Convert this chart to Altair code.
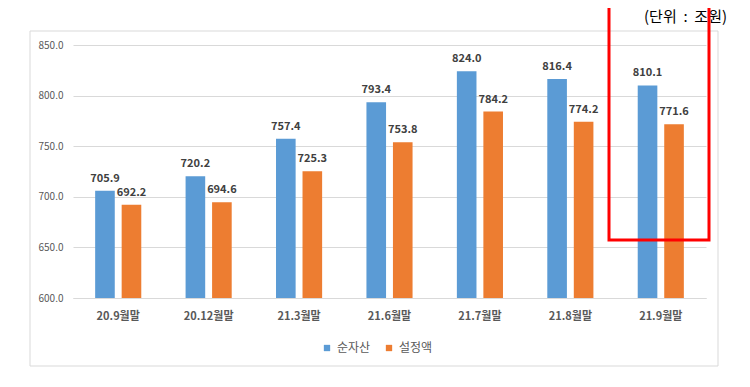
import altair as alt
import pandas as pd

categories = ["20.9월말", "20.12월말", "21.3월말", "21.6월말", "21.7월말", "21.8월말", "21.9월말"]
series_names = ["순자산", "설정액"]
net_assets = [705.9, 720.2, 757.4, 793.4, 824.0, 816.4, 810.1]
set_amount = [692.2, 694.6, 725.3, 753.8, 784.2, 774.2, 771.6]
y_ticks = [600, 650, 700, 750, 800, 850]
unit_text = "(단위\u00a0 :\u00a0 조원)"
colors = ["#5B9BD5", "#ED7D31"]

rows = []
for c, a, b in zip(categories, net_assets, set_amount):
    rows.append({"cat": c, "series": series_names[0], "value": a})
    rows.append({"cat": c, "series": series_names[1], "value": b})
df = pd.DataFrame(rows)

FONT = "Noto Sans CJK KR"
W, H = 633, 253

x_enc = alt.X("cat:N", sort=categories, title=None,
              scale=alt.Scale(paddingInner=0.49, paddingOuter=0.245),
              axis=alt.Axis(labelAngle=0, ticks=False, domainColor="#D9D9D9",
                            labelFont=FONT, labelFontSize=11, labelFontWeight="bold",
                            labelColor="#595959", labelPadding=12))
xoff = alt.XOffset("series:N", sort=series_names,
                   scale=alt.Scale(paddingInner=0.26, paddingOuter=0))
y_enc = alt.Y("value:Q", title=None,
              scale=alt.Scale(domain=[600, 850], nice=False, zero=False),
              axis=alt.Axis(values=y_ticks, format=".1f", ticks=False, domain=False,
                            gridColor="#D9D9D9", labelColor="#595959",
                            labelFont=FONT, labelFontSize=10, labelPadding=10))

base = alt.Chart(df)

bars = base.mark_bar().encode(
    x=x_enc, xOffset=xoff, y=y_enc, y2=alt.datum(600),
    color=alt.Color("series:N", sort=series_names,
                    scale=alt.Scale(domain=series_names, range=colors),
                    legend=alt.Legend(title=None, orient="none", direction="horizontal",
                                      legendX=248, legendY=297, symbolType="square",
                                      symbolSize=40, symbolStrokeWidth=0,
                                      labelFont=FONT, labelFontSize=12,
                                      labelColor="#595959", columnPadding=12,
                                      labelOffset=4)),
)

labels = base.mark_text(dy=-12, baseline="middle", font=FONT, fontSize=11,
                        fontWeight="bold", color="#404040").encode(
    x=alt.X("cat:N", sort=categories),
    xOffset=alt.XOffset("series:N", sort=series_names),
    y="value:Q",
    text=alt.Text("value:Q", format=".1f"),
)

frame = alt.Chart(alt.Data(values=[{}])).mark_rect(
    fill=None, stroke="#D9D9D9", strokeWidth=1).encode(
    x=alt.value(-43), x2=alt.value(645), y=alt.value(-14), y2=alt.value(321))

red_box = alt.Chart(alt.Data(values=[{}])).mark_rect(
    fill=None, stroke="#FF0000", strokeWidth=3).encode(
    x=alt.value(536), x2=alt.value(636), y=alt.value(-50), y2=alt.value(195))

unit = alt.Chart(alt.Data(values=[{"t": unit_text}])).mark_text(
    align="right", baseline="middle", font=FONT, fontSize=15, color="#000000").encode(
    x=alt.value(654), y=alt.value(-28), text="t:N")

chart = alt.layer(frame, bars, labels, unit, red_box).properties(
    width=W, height=H,
    autosize=alt.AutoSizeParams(type="none"),
    padding={"left": 65, "top": 37, "right": 36, "bottom": 70},
).configure_view(stroke=None)

chart.save("out.html", embed_options={"renderer": "svg", "actions": False})
